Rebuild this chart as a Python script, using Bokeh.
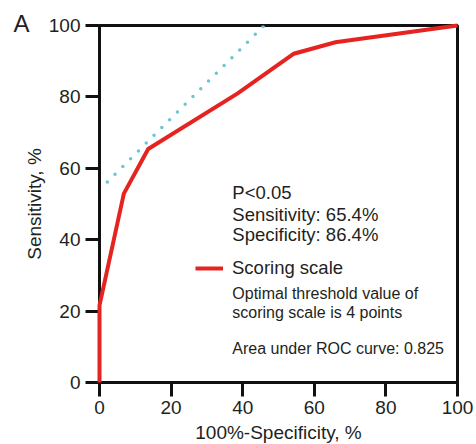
from bokeh.plotting import figure
from bokeh.models import Range1d, Label, Legend, LegendItem, FixedTicker
from bokeh.core.properties import value
from bokeh.embed import file_html
from bokeh.resources import INLINE

# ROC curve of the scoring scale (100%-specificity vs sensitivity, %)
fpr = [0, 0, 6.8, 13.6, 38.6, 54.3, 65.9, 100]
tpr = [0, 21.6, 52.9, 65.4, 81.0, 92.1, 95.3, 100]

# dotted reference line
ref_x = [0, 46]
ref_y = [54, 100]

x_ticks = [0, 20, 40, 60, 80, 100]
y_ticks = [0, 20, 40, 60, 80, 100]

stats_lines = ["P<0.05", "Sensitivity: 65.4%", "Specificity: 86.4%"]
note_lines = ["Optimal threshold value of", "scoring scale is 4 points"]
auc_text = "Area under ROC curve: 0.825"
panel_letter = "A"

FONT = "Liberation Sans"
TXT = "#231f20"
AX = "#111111"
RED = "#e52421"
CYAN = "#6cc5d3"

p = figure(frame_width=358, frame_height=357,
           x_range=Range1d(0, 100), y_range=Range1d(0, 100),
           output_backend="svg", toolbar_location=None,
           min_border_left=99, min_border_right=17,
           min_border_top=25, min_border_bottom=60)
p.grid.visible = False
p.outline_line_color = AX
p.outline_line_width = 3
p.outline_line_alpha = 1.0

for ax, ticks in ((p.xaxis, x_ticks), (p.yaxis, y_ticks)):
    ax.ticker = FixedTicker(ticks=ticks)
    ax.axis_line_width = 3
    ax.axis_line_color = AX
    ax.major_tick_line_width = 3
    ax.major_tick_line_color = AX
    ax.major_tick_out = 14
    ax.major_tick_in = 0
    ax.minor_tick_line_color = None
    ax.major_label_text_font = FONT
    ax.major_label_text_font_size = "19px"
    ax.major_label_text_color = TXT
    ax.axis_label_text_font = FONT
    ax.axis_label_text_font_size = "19px"
    ax.axis_label_text_font_style = "normal"
    ax.axis_label_text_color = TXT

p.xaxis.major_label_standoff = 4
p.yaxis.major_label_standoff = 5
p.xaxis.axis_label = "100%-Specificity, %"
p.yaxis.axis_label = "Sensitivity, %"
p.xaxis.axis_label_standoff = 5
p.yaxis.axis_label_standoff = 1

p.line(ref_x, ref_y, line_color=CYAN, line_width=3.5, line_dash="0 11", line_cap="round")
curve = p.line(fpr, tpr, line_color=RED, line_width=4, line_join="miter", level="overlay")

legend = Legend(items=[LegendItem(label="Scoring scale", renderers=[curve])],
                location=(96, 103), border_line_color=None, background_fill_alpha=0,
                padding=0, margin=0, spacing=0, glyph_width=28, glyph_height=20,
                label_standoff=9, label_height=20, label_text_font=FONT,
                label_text_font_size="18.5px", label_text_color=TXT)
p.add_layout(legend, "center")

for txt, yy in zip(stats_lines, [53.1, 47.0, 41.4]):
    p.add_layout(Label(x=37.1, y=yy, text=txt, text_font=FONT, text_font_size="18.5px",
                       text_color=TXT, text_baseline="alphabetic"))
for txt, yy in zip(note_lines, [24.8, 19.6]):
    p.add_layout(Label(x=37.1, y=yy, text=txt, text_font=FONT, text_font_size="16px",
                       text_color=TXT, text_baseline="alphabetic"))
p.add_layout(Label(x=37.1, y=9.4, text=auc_text, text_font=FONT, text_font_size="16px",
                   text_color=TXT, text_baseline="alphabetic"))

# panel letter, drawn unclipped outside the frame
p.text(x=[-24.0], y=[100.6], text=[panel_letter], text_font=value(FONT),
       text_font_size=value("24px"), text_color=TXT, text_baseline="alphabetic",
       text_align="left", level="overlay")

open("out.html", "w").write(file_html(p, INLINE))
